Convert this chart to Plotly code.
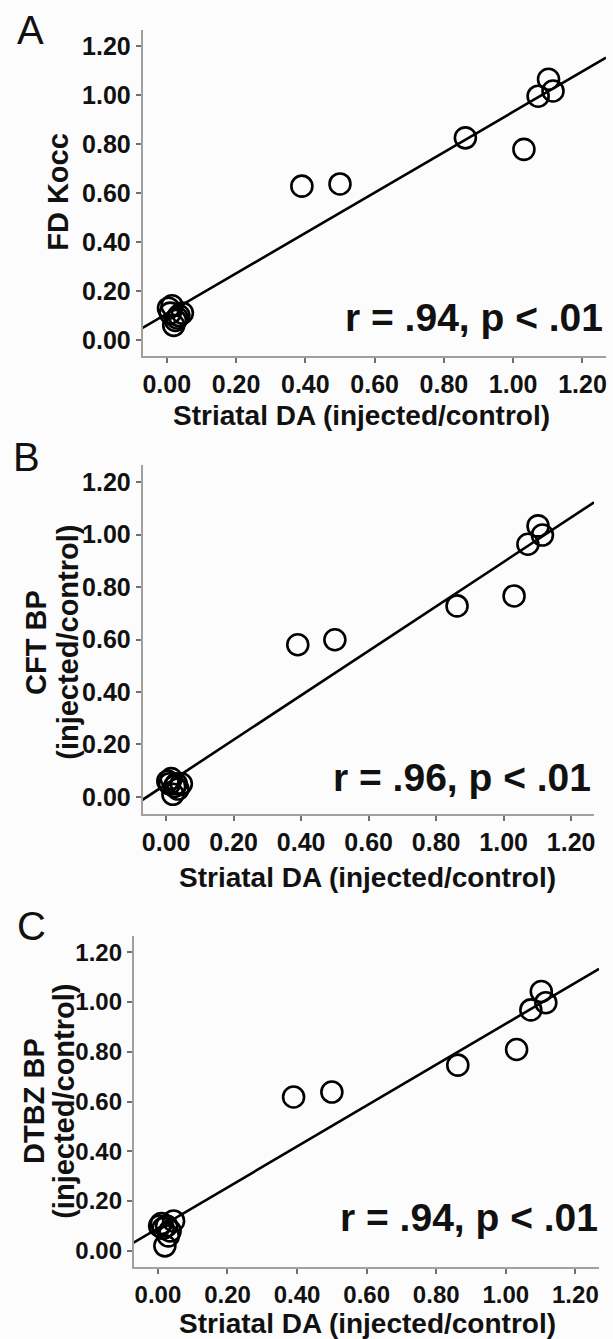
import numpy as np
import plotly.graph_objects as go

# ---------------- data ----------------
striatal_da = [0.005, 0.010, 0.015, 0.020, 0.025, 0.030, 0.035, 0.045,
               0.39, 0.50, 0.862, 1.031, 1.072, 1.102, 1.115]
fd_kocc = [0.13, 0.11, 0.14, 0.06, 0.08, 0.09, 0.10, 0.11,
           0.628, 0.637, 0.825, 0.778, 0.995, 1.064, 1.016]
cft_bp = [0.06, 0.05, 0.07, 0.01, 0.04, 0.05, 0.03, 0.05,
          0.580, 0.599, 0.728, 0.766, 0.963, 1.033, 0.998]
dtbz_bp = [0.10, 0.11, 0.09, 0.02, 0.10, 0.06, 0.08, 0.12,
           0.618, 0.638, 0.746, 0.809, 0.968, 1.042, 0.997]

panel_letters = ["A", "B", "C"]
y_title_lines = [["FD Kocc"], ["CFT BP", "(injected/control)"], ["DTBZ BP", "(injected/control)"]]
x_title = "Striatal DA (injected/control)"
stat_texts = ["r = .94, p < .01", "r = .96, p < .01", "r = .94, p < .01"]
tick_vals = [0.0, 0.2, 0.4, 0.6, 0.8, 1.0, 1.2]
tick_text = ["0.00", "0.20", "0.40", "0.60", "0.80", "1.00", "1.20"]

# ---------------- layout constants (pixels) ----------------
W, H = 613, 1339
XR = [-0.07, 1.268]
YR = [-0.065, 1.265]
# (left, right, top, bottom) of each plot area in px
boxes = [(142, 607, 30, 356), (142, 595, 465, 814), (133, 600, 936, 1267)]
tick_sizes = [25, 25, 24]
letter_pos = [(30, 30), (26, 457), (31, 926)]
ytitle_x = [[57], [35, 67], [33, 63]]
ytitle_y = [192, 642, 1101]
xtitle_pos = [(362, 415), (368, 877), (368, 1323)]
stat_pos = [(606, 317), (594, 777), (601, 1217)]

FONT = "Liberation Sans, Arial, Helvetica, sans-serif"

fig = go.Figure()
series = [fd_kocc, cft_bp, dtbz_bp]
annotations = []


def ann(text, px, py, size, bold=True, angle=0, xanchor="center"):
    f = dict(family=FONT, size=size, color="#111")
    if bold:
        f["weight"] = "bold"
    return dict(text=text, x=px / W, y=1 - py / H, xref="paper", yref="paper",
                xanchor=xanchor, yanchor="middle", showarrow=False, textangle=angle, font=f)


for i, ys in enumerate(series):
    sfx = "" if i == 0 else str(i + 1)
    xa, ya = "x" + sfx, "y" + sfx
    slope, icpt = np.polyfit(striatal_da, ys, 1)
    fig.add_trace(go.Scatter(x=XR, y=[slope * XR[0] + icpt, slope * XR[1] + icpt],
                             mode="lines", line=dict(color="black", width=2.6),
                             xaxis=xa, yaxis=ya, showlegend=False, hoverinfo="skip"))
    fig.add_trace(go.Scatter(x=striatal_da, y=ys, mode="markers",
                             marker=dict(symbol="circle-open", size=21, color="black",
                                         line=dict(color="black", width=2.6)),
                             xaxis=xa, yaxis=ya, showlegend=False, cliponaxis=False))
    l, r, t, b = boxes[i]
    axis_common = dict(showgrid=False, zeroline=False, showline=True,
                       linecolor="#a0a0a0", linewidth=1.5, ticks="outside",
                       ticklen=5, tickwidth=1.5, tickcolor="#707070",
                       tickvals=tick_vals, ticktext=tick_text,
                       tickfont=dict(family=FONT, size=tick_sizes[i], color="#111", weight="bold"))
    fig.update_layout(**{
        "xaxis" + sfx: dict(domain=[l / W, r / W], range=XR, anchor=ya, **axis_common),
        "yaxis" + sfx: dict(domain=[1 - b / H, 1 - t / H], range=YR, anchor=xa, **axis_common),
    })
    lx, ly = letter_pos[i]
    annotations.append(ann(panel_letters[i], lx, ly, 40, bold=False))
    for line, tx in zip(y_title_lines[i], ytitle_x[i]):
        annotations.append(ann(line, tx, ytitle_y[i], 29, angle=-90))
    hx, hy = xtitle_pos[i]
    annotations.append(ann(x_title, hx, hy, 28))
    sx, sy = stat_pos[i]
    annotations.append(ann(stat_texts[i], sx, sy, 39, xanchor="right"))

fig.update_layout(width=W, height=H, margin=dict(l=0, r=0, t=0, b=0),
                  paper_bgcolor="#fcfcfc", plot_bgcolor="#fcfcfc",
                  annotations=annotations, showlegend=False)
fig.write_html("out.html", config={"displayModeBar": False},
               post_script="document.body.style.margin='0';document.body.style.overflow='hidden';")
